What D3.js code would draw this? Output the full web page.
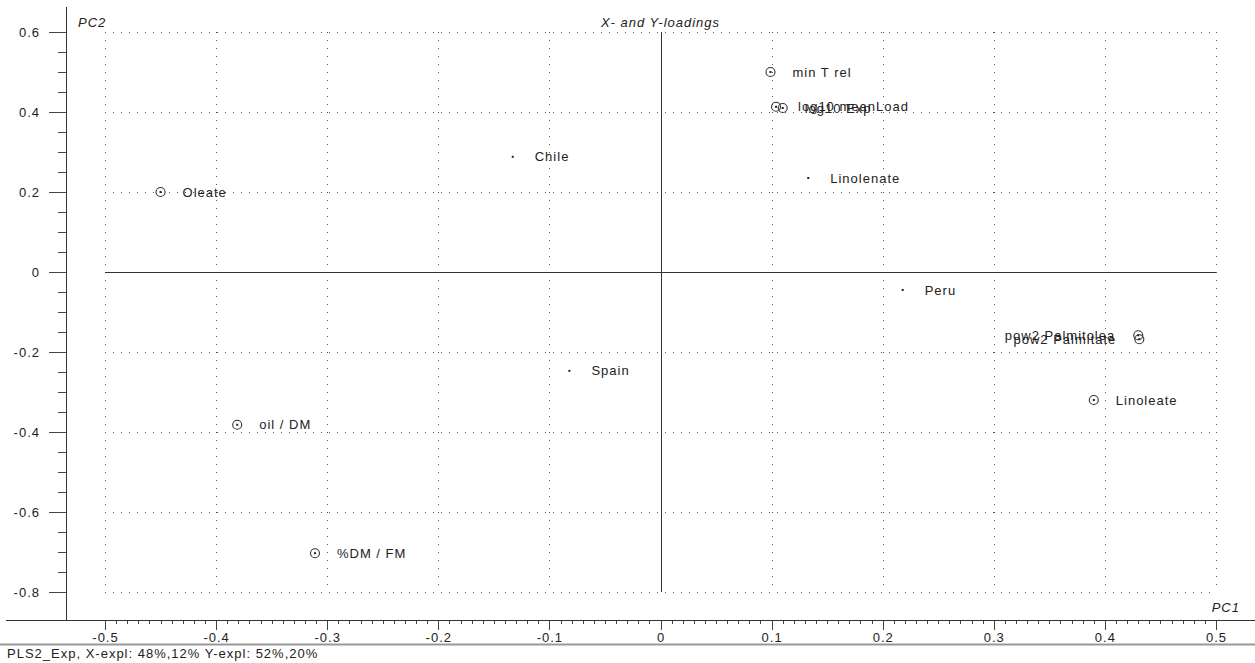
<!DOCTYPE html>
<html>
<head>
<meta charset="utf-8">
<script src="https://cdn.jsdelivr.net/npm/d3@7"></script>
<style>
  html, body { margin: 0; padding: 0; background: #fff; }
  svg { display: block; font-family: "Liberation Sans", Arial, sans-serif; }
  text { font-size: 13px; letter-spacing: 1px; fill: #222; }
</style>
</head>
<body>
<svg id="chart" width="1255" height="663"></svg>
<script>
// ---- data ----
const names = ["min T rel", "log10 meanLoad", "log10 Exp", "Linolenate", "Chile", "Oleate", "Peru",
               "pow2 Palmitolea", "pow2 Palmitate", "Linoleate", "Spain", "oil / DM", "%DM / FM"];
const pc1 = [0.099, 0.104, 0.110, 0.133, -0.133, -0.450, 0.218, 0.430, 0.431, 0.390, -0.082, -0.381, -0.311];
const pc2 = [0.500, 0.413, 0.410, 0.235, 0.288, 0.200, -0.045, -0.158, -0.168, -0.320, -0.247, -0.382, -0.703];
const kinds = ["var", "var", "var", "sample", "sample", "var", "sample", "var", "var", "var", "sample", "var", "var"];
const xTicks = [-0.5, -0.4, -0.3, -0.2, -0.1, 0, 0.1, 0.2, 0.3, 0.4, 0.5];
const yTicks = [0.6, 0.4, 0.2, 0, -0.2, -0.4, -0.6, -0.8];
const title = "X- and Y-loadings";
const footer = "PLS2_Exp, X-expl: 48%,12% Y-expl: 52%,20%";

// ---- layout ----
const svg = d3.select("#chart");
const x = d3.scaleLinear().domain([-0.5, 0.5]).range([105, 1216]);
const y = d3.scaleLinear().domain([-0.8, 0.6]).range([592, 32]);
const axisX = 66, axisY = 620;

const fmt = v => (Math.abs(v) < 1e-9 ? "0" : v.toFixed(1));

// grid (dotted)
const grid = svg.append("g").attr("stroke", "#555").attr("stroke-width", 1)
  .attr("stroke-dasharray", "1,7").attr("shape-rendering", "crispEdges");
grid.selectAll("line.v").data(xTicks.filter(d => d !== 0)).join("line")
  .attr("x1", d => Math.round(x(d)) + 0.5).attr("x2", d => Math.round(x(d)) + 0.5)
  .attr("y1", y(0.6)).attr("y2", y(-0.8));
grid.selectAll("line.h").data(yTicks.filter(d => d !== 0)).join("line")
  .attr("y1", d => Math.round(y(d)) + 0.5).attr("y2", d => Math.round(y(d)) + 0.5)
  .attr("x1", x(-0.5)).attr("x2", x(0.5));

// zero lines
svg.append("line").attr("x1", x(-0.5)).attr("x2", x(0.5))
  .attr("y1", Math.round(y(0)) + 0.5).attr("y2", Math.round(y(0)) + 0.5)
  .attr("stroke", "#333").attr("shape-rendering", "crispEdges");
svg.append("line").attr("y1", y(0.6)).attr("y2", y(-0.8))
  .attr("x1", Math.round(x(0)) + 0.5).attr("x2", Math.round(x(0)) + 0.5)
  .attr("stroke", "#333").attr("shape-rendering", "crispEdges");

// y axis
const yMinor = d3.range(-0.8, 0.6001, 0.05).filter(v => !yTicks.some(t => Math.abs(t - v) < 1e-6));
const yMinorAxis = svg.append("g").attr("transform", `translate(${axisX},0)`)
  .call(d3.axisLeft(y).tickValues(yMinor).tickSize(8).tickFormat(""));
const yAxis = svg.append("g").attr("transform", `translate(${axisX},0)`)
  .call(d3.axisLeft(y).tickValues(yTicks).tickSize(17).tickPadding(9).tickFormat(fmt));
// x axis
const xMinor = d3.range(-0.5, 0.5001, 0.01).filter(v => !xTicks.some(t => Math.abs(t - v) < 1e-6));
const xMinorAxis = svg.append("g").attr("transform", `translate(0,${axisY})`)
  .call(d3.axisBottom(x).tickValues(xMinor).tickSize(4).tickFormat(""));
const xAxis = svg.append("g").attr("transform", `translate(0,${axisY})`)
  .call(d3.axisBottom(x).tickValues(xTicks).tickSize(10).tickPadding(3).tickFormat(fmt));

[yMinorAxis, yAxis, xMinorAxis, xAxis].forEach(g => {
  g.select(".domain").remove();
  g.selectAll("line").attr("stroke", "#444").attr("shape-rendering", "crispEdges");
  g.selectAll("text").attr("font-size", 13).attr("fill", "#333")
    .attr("font-family", "Liberation Sans, Arial, sans-serif").style("letter-spacing", "1px");
});
yAxis.selectAll("text").attr("text-anchor", "end");

// axis lines
svg.append("line").attr("x1", axisX + 0.5).attr("x2", axisX + 0.5).attr("y1", 7).attr("y2", axisY)
  .attr("stroke", "#333").attr("shape-rendering", "crispEdges");
svg.append("line").attr("x1", 6).attr("x2", 1255).attr("y1", axisY + 0.5).attr("y2", axisY + 0.5)
  .attr("stroke", "#333").attr("shape-rendering", "crispEdges");

// footer separator
svg.append("line").attr("x1", 0).attr("x2", 1255).attr("y1", 644.5).attr("y2", 644.5)
  .attr("stroke", "#999").attr("stroke-width", 2);
svg.append("text").attr("x", 7).attr("y", 658).text(footer).attr("fill", "#333");

// titles
svg.append("text").attr("x", x(0)).attr("y", 27).attr("text-anchor", "middle")
  .attr("font-style", "italic").attr("fill", "#333").text(title);
svg.append("text").attr("x", 78).attr("y", 27).attr("font-style", "italic").attr("fill", "#333").text("PC2");
svg.append("text").attr("x", 1240).attr("y", 612).attr("text-anchor", "end")
  .attr("font-style", "italic").attr("fill", "#333").text("PC1");

// points
const pts = names.map((n, i) => ({ name: n, px: pc1[i], py: pc2[i], kind: kinds[i] }));
const pg = svg.append("g");
pts.forEach(d => {
  const cx = x(d.px), cy = y(d.py);
  if (d.kind === "var") {
    pg.append("circle").attr("cx", cx).attr("cy", cy).attr("r", 4.5)
      .attr("fill", "none").attr("stroke", "#333").attr("stroke-width", 1.1);
    pg.append("rect").attr("x", cx - 1).attr("y", cy - 1).attr("width", 2).attr("height", 2).attr("fill", "#222");
  } else {
    pg.append("rect").attr("x", cx - 1).attr("y", cy - 1).attr("width", 2).attr("height", 2).attr("fill", "#222");
  }
  const t = pg.append("text").attr("y", cy).attr("dy", "0.35em").text(d.name).attr("fill", "#222");
  const w = t.node().getComputedTextLength();
  if (cx + 22 + w > x(0.5)) {
    t.attr("x", cx - 23).attr("text-anchor", "end");
  } else {
    t.attr("x", cx + 22);
  }
});
</script>
</body>
</html>
